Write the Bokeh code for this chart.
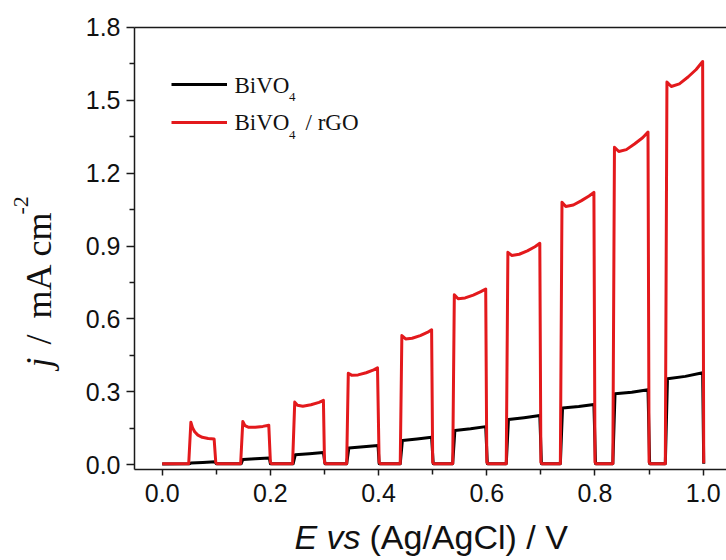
import math
from bokeh.plotting import figure
from bokeh.models import Range1d, LinearAxis, FixedTicker, Label, Legend, LegendItem, NumeralTickFormatter
from bokeh.embed import file_html
from bokeh.resources import INLINE

# ---- data (E vs Ag/AgCl in V, j in mA cm^-2) ----
E_bivo4 = [0.000, 0.050, 0.053, 0.075, 0.098, 0.100,
           0.146, 0.149, 0.172, 0.198, 0.200,
           0.242, 0.246, 0.272, 0.298, 0.301,
           0.341, 0.345, 0.372, 0.399, 0.401,
           0.440, 0.444, 0.471, 0.498, 0.501,
           0.537, 0.541, 0.570, 0.598, 0.601,
           0.636, 0.640, 0.669, 0.698, 0.701,
           0.736, 0.740, 0.770, 0.798, 0.801,
           0.833, 0.837, 0.868, 0.898, 0.901,
           0.930, 0.934, 0.967, 0.999, 1.001]
j_bivo4 = [0.002, 0.003, 0.006, 0.008, 0.011, 0.003,
           0.003, 0.021, 0.024, 0.027, 0.003,
           0.003, 0.040, 0.044, 0.049, 0.003,
           0.003, 0.068, 0.073, 0.078, 0.003,
           0.003, 0.099, 0.105, 0.112, 0.003,
           0.003, 0.140, 0.147, 0.156, 0.003,
           0.003, 0.185, 0.193, 0.202, 0.003,
           0.003, 0.233, 0.239, 0.247, 0.003,
           0.003, 0.291, 0.298, 0.308, 0.003,
           0.003, 0.353, 0.363, 0.378, 0.003]

E_rgo = [0.000, 0.049, 0.053, 0.056, 0.060, 0.066, 0.074, 0.085, 0.096, 0.099, 0.101,
         0.145, 0.149, 0.153, 0.160, 0.172, 0.186, 0.197, 0.200, 0.202,
         0.241, 0.245, 0.250, 0.260, 0.275, 0.290, 0.298, 0.300, 0.302,
         0.341, 0.344, 0.350, 0.362, 0.377, 0.391, 0.398, 0.401, 0.403,
         0.440, 0.443, 0.450, 0.462, 0.477, 0.490, 0.498, 0.500, 0.502,
         0.537, 0.540, 0.547, 0.560, 0.575, 0.589, 0.598, 0.600, 0.602,
         0.636, 0.639, 0.646, 0.660, 0.675, 0.689, 0.698, 0.700, 0.702,
         0.736, 0.739, 0.746, 0.760, 0.775, 0.789, 0.798, 0.800, 0.802,
         0.833, 0.836, 0.844, 0.858, 0.873, 0.888, 0.898, 0.900, 0.902,
         0.930, 0.933, 0.941, 0.956, 0.972, 0.987, 0.999, 1.001]
j_rgo = [0.003, 0.003, 0.174, 0.152, 0.135, 0.121, 0.112, 0.107, 0.105, 0.010, 0.003,
         0.003, 0.177, 0.160, 0.153, 0.153, 0.157, 0.162, 0.010, 0.003,
         0.003, 0.257, 0.244, 0.240, 0.246, 0.256, 0.264, 0.010, 0.003,
         0.003, 0.376, 0.368, 0.369, 0.378, 0.390, 0.398, 0.010, 0.003,
         0.003, 0.531, 0.517, 0.520, 0.531, 0.544, 0.555, 0.010, 0.003,
         0.003, 0.699, 0.683, 0.686, 0.698, 0.712, 0.723, 0.010, 0.003,
         0.003, 0.874, 0.861, 0.866, 0.880, 0.897, 0.911, 0.010, 0.003,
         0.003, 1.080, 1.063, 1.069, 1.087, 1.106, 1.121, 0.010, 0.003,
         0.003, 1.307, 1.289, 1.297, 1.320, 1.346, 1.369, 0.010, 0.003,
         0.003, 1.575, 1.557, 1.568, 1.596, 1.627, 1.660, 0.005]

x_ticks = [0.0, 0.2, 0.4, 0.6, 0.8, 1.0]
x_minor = [0.1, 0.3, 0.5, 0.7, 0.9]
y_ticks = [0.0, 0.3, 0.6, 0.9, 1.2, 1.5, 1.8]
y_minor = [0.15, 0.45, 0.75, 1.05, 1.35, 1.65]

# axis box (data coordinates)
X_LO, X_HI = -0.0512, 1.0431
Y_LO, Y_HI = -0.0206, 1.8

AXIS_COLOR = "#1a1a1a"
RED = "#e3191c"

# the frame covers the whole canvas; the axes are drawn at fixed locations
p = figure(width=726, height=560, output_backend="svg", toolbar_location=None,
           x_range=Range1d(-0.2989, 1.0431), y_range=Range1d(-0.3954, 1.9112),
           min_border_left=0, min_border_right=0, min_border_top=0, min_border_bottom=0)
p.outline_line_color = None
p.xgrid.visible = False
p.ygrid.visible = False
p.background_fill_color = "white"
p.border_fill_color = "white"

xa = p.xaxis[0]
ya = p.yaxis[0]
xa.fixed_location = Y_LO
ya.fixed_location = X_LO
xa.bounds = (X_LO, X_HI)
ya.bounds = (Y_LO, Y_HI)

for ax, ticks, minor in ((xa, x_ticks, x_minor), (ya, y_ticks, y_minor)):
    ax.ticker = FixedTicker(ticks=ticks, minor_ticks=minor)
    ax.formatter = NumeralTickFormatter(format="0.0")
    ax.axis_line_color = AXIS_COLOR
    ax.axis_line_width = 1.5
    ax.major_tick_line_color = AXIS_COLOR
    ax.minor_tick_line_color = AXIS_COLOR
    ax.major_tick_line_width = 1.5
    ax.minor_tick_line_width = 1.5
    ax.major_tick_in = 0
    ax.minor_tick_in = 0
    ax.major_label_text_font = "Liberation Sans"
    ax.major_label_text_font_size = "25px"
    ax.major_label_text_color = "#111111"

xa.major_tick_out = 6
xa.minor_tick_out = 5
xa.major_label_standoff = 8
ya.major_tick_out = 8
ya.minor_tick_out = 5
ya.major_label_standoff = 6

top = LinearAxis(ticker=FixedTicker(ticks=[]), major_label_text_font_size="0px",
                 major_tick_out=0, minor_tick_out=0, major_tick_in=0, minor_tick_in=0,
                 axis_line_color=AXIS_COLOR, axis_line_width=1.5,
                 fixed_location=Y_HI, bounds=(X_LO, X_HI))
p.add_layout(top, "above")

r_black = p.line(E_bivo4, j_bivo4, line_color="black", line_width=3, line_join="round")
r_red = p.line(E_rgo, j_rgo, line_color=RED, line_width=3, line_join="round")

legend = Legend(items=[LegendItem(label=" ", renderers=[r_black]),
                       LegendItem(label=" ", renderers=[r_red])],
                location=(171, 428), padding=0, spacing=18, margin=0,
                glyph_width=56, glyph_height=20, label_height=20, label_width=0,
                label_standoff=0, border_line_color=None, background_fill_alpha=0,
                label_text_font_size="10px")
p.add_layout(legend)

H = 560  # canvas height: labels are placed in screen units from the bottom-left

def lab(text, x, y_mid, font, size, style="normal", angle=0.0):
    p.add_layout(Label(x=x, y=H - y_mid, x_units="screen", y_units="screen", text=text,
                       text_font=font, text_font_size=f"{size}px", text_font_style=style,
                       text_color="#111111", angle=angle,
                       text_align="left", text_baseline="middle"))

SERIF = "Liberation Serif"
SANS = "Liberation Sans"
# legend texts (positions are text-box centres)
lab("BiVO", 234, 84.5, SERIF, 23)
lab("4", 288.5, 96.3, SERIF, 13)
lab("BiVO", 234, 122.2, SERIF, 23)
lab("4", 288.5, 134.0, SERIF, 13)
lab("/ rGO", 305, 122.2, SERIF, 23)
# y axis title (rotated, reads bottom to top); x is the text-box centre line
lab("j", 38, 367, SERIF, 36, "italic", math.pi / 2)
lab("/", 38, 344, SERIF, 36, "normal", math.pi / 2)
lab("mA", 38, 318, SERIF, 36, "normal", math.pi / 2)
lab("cm", 38, 256, SERIF, 36, "normal", math.pi / 2)
lab("-2", 20.5, 214, SERIF, 22, "normal", math.pi / 2)
# x axis title
lab("E vs", 294, 536, SANS, 34, "italic")
lab("(Ag/AgCl) / V", 369, 536, SANS, 34, "normal")

open("out.html", "w").write(file_html(p, INLINE))
